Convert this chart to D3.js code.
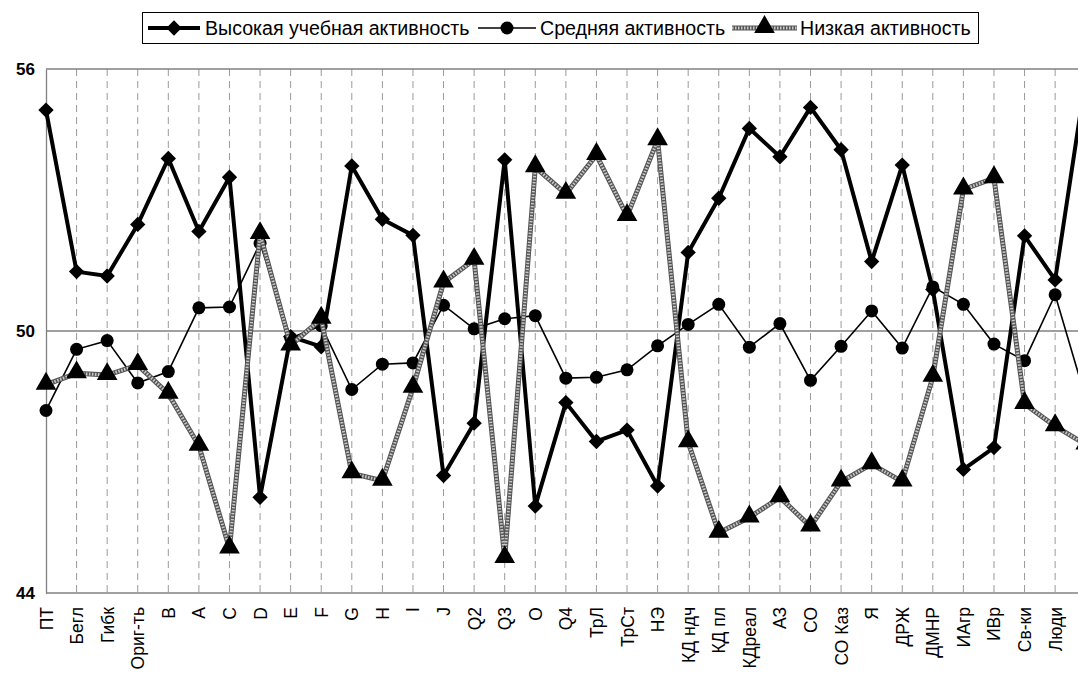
<!DOCTYPE html>
<html><head><meta charset="utf-8">
<script src="https://cdn.jsdelivr.net/npm/d3@7/dist/d3.min.js"></script>
<style>
html,body{margin:0;padding:0;background:#fff;overflow:hidden;}
svg{display:block;font-family:"Liberation Sans",Arial,sans-serif;}
</style></head>
<body>
<svg id="chart" width="1078" height="675"></svg>
<script>
const categories = ["ПТ","Бегл","Гибк","Ориг-ть","B","A","C","D","E","F","G","H","I","J","Q2","Q3","O","Q4","ТрЛ","ТрСт","НЭ","КД ндч","КД пл","КДреал","АЗ","СО","СО Каз","Я","ДРЖ","ДМНР","ИАгр","ИВр","Св-ки","Люди","Самооц"];
const highValues = [55.06,51.36,51.26,52.44,53.95,52.28,53.52,46.19,49.87,49.64,53.78,52.56,52.19,46.69,47.89,53.92,45.99,48.36,47.47,47.73,46.45,51.80,53.04,54.64,53.99,55.12,54.15,51.59,53.80,50.95,46.83,47.33,52.18,51.17,55.80];
const midValues  = [48.18,49.58,49.78,48.81,49.07,50.53,50.55,52.01,49.84,50.12,48.66,49.24,49.27,50.59,50.05,50.28,50.35,48.92,48.94,49.11,49.66,50.15,50.61,49.63,50.17,48.87,49.65,50.46,49.61,51.01,50.61,49.70,49.32,50.83,48.45];
const lowValues  = [48.77,49.03,48.99,49.22,48.56,47.37,45.02,52.22,49.67,50.28,46.74,46.57,48.70,51.11,51.63,44.80,53.75,53.14,54.03,52.63,54.37,47.45,45.38,45.73,46.19,45.52,46.55,46.95,46.55,48.95,53.24,53.50,48.33,47.82,47.40];
const yTicks = [44,50,56];
const seriesNames = ["Высокая учебная активность","Средняя активность","Низкая активность"];

const svg = d3.select("#chart");
const x = d3.scalePoint().domain(categories).range([46, 46 + 34*30.58]);
const y = d3.scaleLinear().domain([44,56]).range([593,69]);
const xMax = 1090;

// vertical dashed gridlines
svg.append("g").selectAll("line").data(categories.slice(1)).join("line")
  .attr("x1", d=>x(d)).attr("x2", d=>x(d)).attr("y1", y(56)).attr("y2", y(44))
  .attr("stroke","#9a9a9a").attr("stroke-width",1).attr("stroke-dasharray","7,5");
// horizontal lines
svg.append("g").selectAll("line").data(yTicks).join("line")
  .attr("x1", 46).attr("x2", xMax).attr("y1", d=>y(d)).attr("y2", d=>y(d))
  .attr("stroke","#808080").attr("stroke-width",1.3);

// left axis
const yAxis = d3.axisLeft(y).tickValues(yTicks).tickSize(0).tickPadding(11);
const gy = svg.append("g").attr("transform","translate(46,0)").call(yAxis);
gy.select(".domain").attr("stroke","#808080").attr("stroke-width",1.3);
gy.selectAll("text").attr("font-size",17).attr("font-weight","bold").attr("fill","#000")
  .attr("font-family","'Liberation Sans',Arial,sans-serif");

// bottom axis
const xAxis = d3.axisBottom(x).tickSize(0).tickPadding(0);
const gx = svg.append("g").attr("transform","translate(0,593)").call(xAxis);
gx.select(".domain").remove();
gx.selectAll("text").attr("font-size",17.5).attr("fill","#000")
  .attr("font-family","'Liberation Sans',Arial,sans-serif")
  .attr("text-anchor","end").attr("dy",null)
  .attr("transform","translate(6,14) rotate(-90)").attr("y",0).attr("x",0);

const line = d3.line().x((d,i)=>x(categories[i])).y(d=>y(d));

// High series
svg.append("path").datum(highValues).attr("d",line).attr("fill","none")
  .attr("stroke","#000").attr("stroke-width",4).attr("stroke-linejoin","round");
const diamond = d3.symbol().type(d3.symbolDiamond2).size(150);
svg.append("g").selectAll("path").data(highValues).join("path")
  .attr("d", diamond).attr("transform",(d,i)=>`translate(${x(categories[i])},${y(d)})`)
  .attr("fill","#000");

// Mid series
svg.append("path").datum(midValues).attr("d",line).attr("fill","none")
  .attr("stroke","#000").attr("stroke-width",1.6);
svg.append("g").selectAll("circle").data(midValues).join("circle")
  .attr("cx",(d,i)=>x(categories[i])).attr("cy",d=>y(d)).attr("r",6.5).attr("fill","#000");

// Low series (textured gray)
svg.append("path").datum(lowValues).attr("d",line).attr("fill","none")
  .attr("stroke","#555").attr("stroke-width",5).attr("stroke-linejoin","round");
svg.append("path").datum(lowValues).attr("d",line).attr("fill","none")
  .attr("stroke","#c8c8c8").attr("stroke-width",3).attr("stroke-dasharray","1.5,1.5");
const tri = d3.symbol().type(d3.symbolTriangle).size(185);
svg.append("g").selectAll("path").data(lowValues).join("path")
  .attr("d", tri).attr("transform",(d,i)=>`translate(${x(categories[i])},${y(d)-1})`)
  .attr("fill","#000");

// Legend
const lg = svg.append("g");
lg.append("rect").attr("x",142.5).attr("y",12.5).attr("width",836).attr("height",31)
  .attr("fill","#fff").attr("stroke","#000").attr("stroke-width",1);
const ly = 28;
const items = [
  {name:seriesNames[0], x0:148, x1:200, tx:205},
  {name:seriesNames[1], x0:478, x1:536, tx:540},
  {name:seriesNames[2], x0:732, x1:797, tx:800}
];
lg.append("line").attr("x1",items[0].x0).attr("x2",items[0].x1).attr("y1",ly).attr("y2",ly)
  .attr("stroke","#000").attr("stroke-width",4);
lg.append("path").attr("d",diamond).attr("transform",`translate(${(items[0].x0+items[0].x1)/2},${ly})`);
lg.append("line").attr("x1",items[1].x0).attr("x2",items[1].x1).attr("y1",ly).attr("y2",ly)
  .attr("stroke","#000").attr("stroke-width",1.6);
lg.append("circle").attr("cx",(items[1].x0+items[1].x1)/2).attr("cy",ly).attr("r",6.5);
lg.append("line").attr("x1",items[2].x0).attr("x2",items[2].x1).attr("y1",ly).attr("y2",ly)
  .attr("stroke","#555").attr("stroke-width",5);
lg.append("line").attr("x1",items[2].x0).attr("x2",items[2].x1).attr("y1",ly).attr("y2",ly)
  .attr("stroke","#c8c8c8").attr("stroke-width",3).attr("stroke-dasharray","1.5,1.5");
lg.append("path").attr("d",tri).attr("transform",`translate(${(items[2].x0+items[2].x1)/2},${ly-1})`);
lg.selectAll("text.lt").data(items).join("text").attr("class","lt")
  .attr("x",d=>d.tx).attr("y",ly+7).attr("font-size",19.6).attr("fill","#000")
  .text(d=>d.name);
</script>
</body></html>
